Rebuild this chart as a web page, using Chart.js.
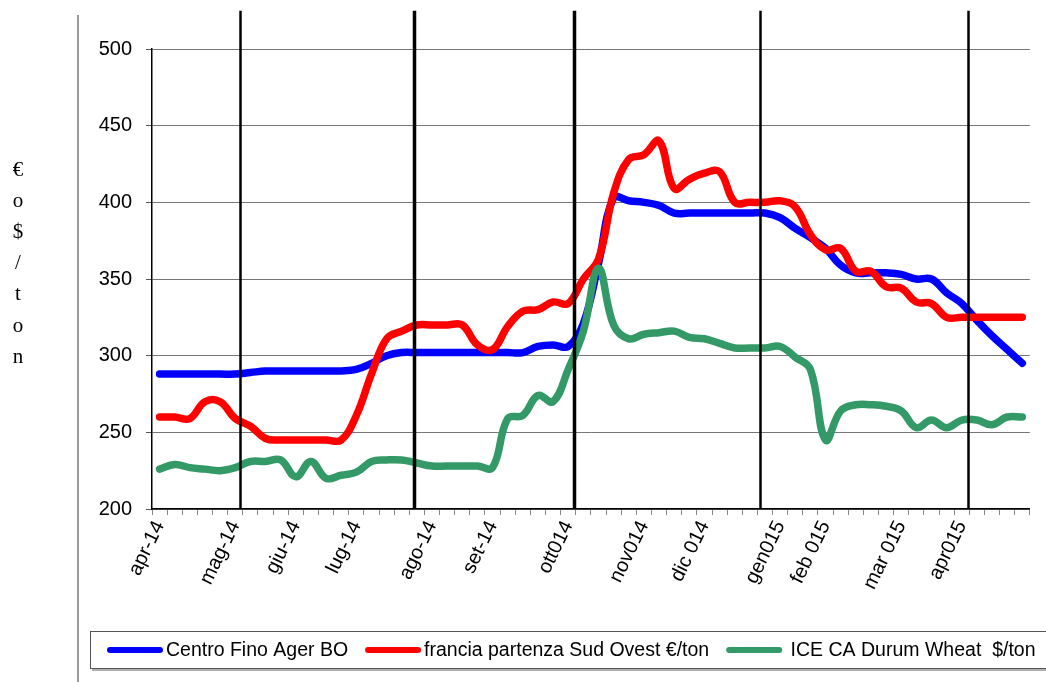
<!DOCTYPE html>
<html>
<head>
<meta charset="utf-8">
<script src="https://cdn.jsdelivr.net/npm/chart.js@4/dist/chart.umd.min.js"></script>
<style>
  html, body { margin: 0; padding: 0; background: #fff; }
  #wrap { width: 1046px; height: 682px; position: relative; }
</style>
</head>
<body>
<div id="wrap"><canvas id="priceChart"></canvas></div>
<script>
// weekly categories, only some of them carry a label
const categories = [
    'apr-14', '', '', '', '', 'mag-14', '', '', '', 'giu-14',
    '', '', '', 'lug-14', '', '', '', '', 'ago-14', '',
    '', '', 'set-14', '', '', '', '', 'ott014', '', '',
    '', '', 'nov014', '', '', '', 'dic 014', '', '', '',
    '', 'gen015', '', '', 'feb 015', '', '', '', '', 'mar 015',
    '', '', '', 'apr015', '', '', '', ''
];

const seriesNames = ['Centro Fino Ager BO', 'francia partenza Sud Ovest €/ton', ' ICE CA Durum Wheat  $/ton'];

const centroFino = [
    288, 288, 288, 288, 288, 288, 289, 290, 290, 290,
    290, 290, 290, 291, 295, 300, 302, 302, 302, 302,
    302, 302, 302, 302, 302, 306, 307, 306, 321, 360,
    403, 401, 400, 398, 393, 393, 393, 393, 393, 393,
    393, 390, 383, 377, 370, 359, 354, 354, 354, 353,
    350, 350, 341, 334, 323, 313, 304, 295
];

const franciaSudOvest = [
    260, 260, 259, 270, 270, 259, 254, 246, 245, 245,
    245, 245, 245, 261, 288, 311, 316, 320, 320, 320,
    320, 307, 304, 319, 329, 330, 335, 334, 350, 363,
    406, 428, 431, 440, 409, 415, 419, 420, 400, 400,
    400, 401, 397, 379, 369, 370, 355, 355, 345, 344,
    335, 334, 325, 325, 325, 325, 325, 325
];

const iceDurum = [
    226, 229, 227, 226, 225, 227, 231, 231, 232, 221,
    231, 220, 222, 224, 231, 232, 232, 230, 228, 228,
    228, 228, 227, 259, 261, 274, 270, 291, 316, 357,
    320, 311, 314, 315, 316, 312, 311, 308, 305, 305,
    305, 306, 299, 291, 245, 264, 268, 268, 267, 264,
    253, 258, 253, 258, 258, 255, 260, 260
];

// y axis range
const yMin = 200;
const yMax = 500;
const yStep = 50;

// hand drawn dividers, in category units, and how high they reach
const dividers = [5.31, 16.8, 27.37, 39.66, 53.39];
const dividerWidths = [2.5, 3.5, 3.5, 2.5, 2.5];
const dividerTop = 525;

const yTitleChars = ['€', 'o', '$', '/', 't', 'o', 'n'];

const colors = ['#0000ff', '#ff0000', '#339966'];

const decorPlugin = {
    id: 'decor',
    afterDatasetsDraw(chart) {
        const { ctx, chartArea, scales } = chart;
        const x = scales.x, y = scales.y;
        ctx.save();
        ctx.strokeStyle = '#000';
        dividers.forEach((d, i) => {
            const px = Math.round(x.getPixelForValue(d)) + 0.5;
            ctx.lineWidth = dividerWidths[i];
            ctx.beginPath();
            ctx.moveTo(px, y.getPixelForValue(dividerTop));
            ctx.lineTo(px, chartArea.bottom);
            ctx.stroke();
        });
        ctx.restore();
    },
    afterDraw(chart) {
        const ctx = chart.ctx;
        ctx.save();

        // left frame edge
        ctx.strokeStyle = '#999';
        ctx.lineWidth = 2;
        ctx.beginPath();
        ctx.moveTo(78, 15);
        ctx.lineTo(78, 682);
        ctx.stroke();

        // stacked axis title
        ctx.fillStyle = '#000';
        ctx.font = '21px "Liberation Serif", "Times New Roman", serif';
        ctx.textAlign = 'center';
        ctx.textBaseline = 'middle';
        yTitleChars.forEach((c, i) => ctx.fillText(c, 18, 170 + i * 31.2));

        // legend box
        ctx.strokeStyle = '#b0b0b0';
        ctx.lineWidth = 2;
        ctx.beginPath();
        ctx.moveTo(92, 670);
        ctx.lineTo(1046, 670);
        ctx.stroke();
        ctx.strokeStyle = '#555';
        ctx.lineWidth = 1;
        ctx.strokeRect(90.5, 631.5, 1000, 37);

        ctx.font = '19.5px "Liberation Sans", Arial, sans-serif';
        ctx.textAlign = 'left';
        let lx = 107;
        const ly = 650;
        chart.data.datasets.forEach(ds => {
            ctx.strokeStyle = ds.borderColor;
            ctx.lineWidth = 6;
            ctx.lineCap = 'round';
            ctx.beginPath();
            ctx.moveTo(lx + 3, ly);
            ctx.lineTo(lx + 53, ly);
            ctx.stroke();
            ctx.fillStyle = '#000';
            ctx.fillText(ds.label, lx + 59, ly + 1);
            lx += 59 + ctx.measureText(ds.label).width + 17;
        });
        ctx.restore();
    }
};

const seriesData = [centroFino, franciaSudOvest, iceDurum];

new Chart(document.getElementById('priceChart'), {
    type: 'line',
    data: {
        labels: categories,
        datasets: seriesData.map((values, i) => ({
            label: seriesNames[i],
            data: values,
            borderColor: colors[i],
            backgroundColor: colors[i],
            borderWidth: 7.5,
            pointRadius: 0,
            tension: 0.4,
            borderCapStyle: 'round',
            borderJoinStyle: 'round',
            order: 2 - i
        }))
    },
    options: {
        responsive: true,
        maintainAspectRatio: false,
        animation: false,
        layout: { padding: { top: 49, right: 16, left: 0, bottom: 0 } },
        plugins: { legend: { display: false }, tooltip: { enabled: false } },
        scales: {
            x: {
                offset: true,
                grid: { offset: true, drawOnChartArea: false, drawTicks: true, tickLength: 6, tickColor: '#888' },
                border: { color: '#000', width: 1.5 },
                ticks: {
                    autoSkip: false,
                    minRotation: 64,
                    maxRotation: 64,
                    padding: 2,
                    color: '#000',
                    font: { family: '"Liberation Sans", Arial, sans-serif', size: 20 }
                },
                afterFit(scale) { scale.height = 173; }
            },
            y: {
                min: yMin,
                max: yMax,
                grid: { color: '#777', lineWidth: 1, tickLength: 6, tickColor: '#555' },
                border: { color: '#000', width: 1.5 },
                ticks: {
                    stepSize: yStep,
                    padding: 14,
                    color: '#000',
                    font: { family: '"Liberation Sans", Arial, sans-serif', size: 20 }
                },
                afterFit(scale) { scale.width = 152; }
            }
        }
    },
    plugins: [decorPlugin]
});
</script>
</body>
</html>
